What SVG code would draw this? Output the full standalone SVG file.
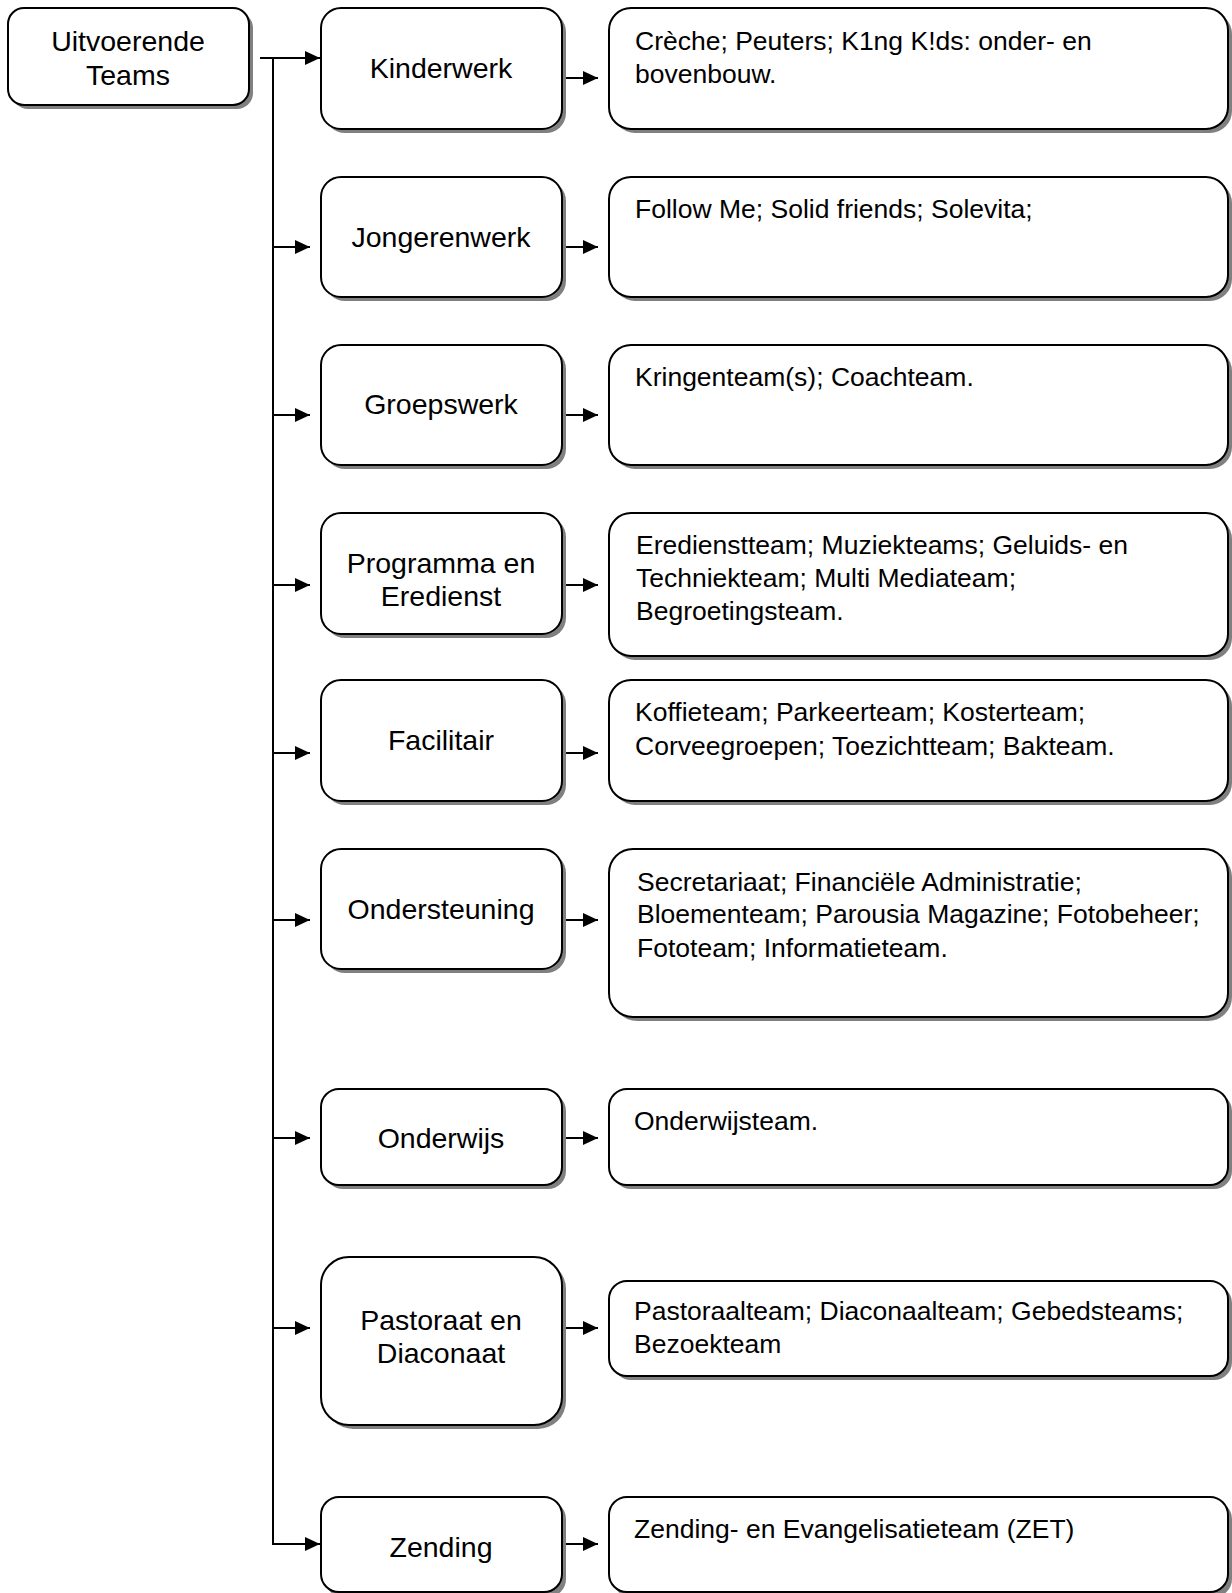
<svg xmlns="http://www.w3.org/2000/svg" width="1232" height="1593" viewBox="0 0 1232 1593">
<style>
.sh{fill:#808080;stroke:none}
.bx{fill:#fff;stroke:#000;stroke-width:2}
.lb{font-family:"Liberation Sans",Arial,sans-serif;font-size:28.5px;fill:#000;text-anchor:middle}
.tx{font-family:"Liberation Sans",Arial,sans-serif;font-size:26.5px;fill:#000}
.cn{fill:none;stroke:#000;stroke-width:2}
</style>
<defs>
<marker id="ah" markerUnits="userSpaceOnUse" markerWidth="16" markerHeight="14" refX="15" refY="7" orient="auto">
<path d="M0,0 L15,7 L0,14 Z" fill="#000"/>
</marker>
</defs>
<rect width="1232" height="1593" fill="#fff"/>

<g id="connectors">
<path class="cn" d="M260,58 H320" marker-end="url(#ah)"/>
<path class="cn" d="M273,58 V1544 H320" marker-end="url(#ah)"/>
<path class="cn" d="M273,247 H310" marker-end="url(#ah)"/>
<path class="cn" d="M273,415 H310" marker-end="url(#ah)"/>
<path class="cn" d="M273,585 H310" marker-end="url(#ah)"/>
<path class="cn" d="M273,753 H310" marker-end="url(#ah)"/>
<path class="cn" d="M273,920 H310" marker-end="url(#ah)"/>
<path class="cn" d="M273,1138 H310" marker-end="url(#ah)"/>
<path class="cn" d="M273,1328 H310" marker-end="url(#ah)"/>
<path class="cn" d="M563,78 H598" marker-end="url(#ah)"/>
<path class="cn" d="M563,247 H598" marker-end="url(#ah)"/>
<path class="cn" d="M563,415 H598" marker-end="url(#ah)"/>
<path class="cn" d="M563,585 H598" marker-end="url(#ah)"/>
<path class="cn" d="M563,753 H598" marker-end="url(#ah)"/>
<path class="cn" d="M563,920 H598" marker-end="url(#ah)"/>
<path class="cn" d="M563,1138 H598" marker-end="url(#ah)"/>
<path class="cn" d="M563,1328 H598" marker-end="url(#ah)"/>
<path class="cn" d="M563,1544 H598" marker-end="url(#ah)"/>
</g>

<g id="n-root">
<rect class="sh" x="12" y="12" width="241" height="97" rx="16"/>
<rect class="bx" x="8" y="8" width="241" height="97" rx="16"/>
<text class="lb" x="128" y="51">Uitvoerende</text>
<text class="lb" x="128" y="85">Teams</text>
</g>

<g id="n-kinderwerk">
<rect class="sh" x="325" y="12" width="241" height="121" rx="20"/>
<rect class="bx" x="321" y="8" width="241" height="121" rx="20"/>
<text class="lb" x="441" y="78">Kinderwerk</text>
</g>
<g id="d-kinderwerk">
<rect class="sh" x="613" y="12" width="619" height="121" rx="22"/>
<rect class="bx" x="609" y="8" width="619" height="121" rx="22"/>
<text class="tx" x="635" y="50">Crèche; Peuters; K1ng K!ds: onder- en</text>
<text class="tx" x="635" y="83">bovenbouw.</text>
</g>

<g id="n-jongerenwerk">
<rect class="sh" x="325" y="181" width="241" height="120" rx="20"/>
<rect class="bx" x="321" y="177" width="241" height="120" rx="20"/>
<text class="lb" x="441" y="247">Jongerenwerk</text>
</g>
<g id="d-jongerenwerk">
<rect class="sh" x="613" y="181" width="619" height="120" rx="22"/>
<rect class="bx" x="609" y="177" width="619" height="120" rx="22"/>
<text class="tx" x="635" y="218">Follow Me; Solid friends; Solevita;</text>
</g>

<g id="n-groepswerk">
<rect class="sh" x="325" y="349" width="241" height="120" rx="20"/>
<rect class="bx" x="321" y="345" width="241" height="120" rx="20"/>
<text class="lb" x="441" y="414">Groepswerk</text>
</g>
<g id="d-groepswerk">
<rect class="sh" x="613" y="349" width="619" height="120" rx="22"/>
<rect class="bx" x="609" y="345" width="619" height="120" rx="22"/>
<text class="tx" x="635" y="386">Kringenteam(s); Coachteam.</text>
</g>

<g id="n-programma">
<rect class="sh" x="325" y="517" width="241" height="121" rx="20"/>
<rect class="bx" x="321" y="513" width="241" height="121" rx="20"/>
<text class="lb" x="441" y="573">Programma en</text>
<text class="lb" x="441" y="606">Eredienst</text>
</g>
<g id="d-programma">
<rect class="sh" x="613" y="517" width="619" height="143" rx="22"/>
<rect class="bx" x="609" y="513" width="619" height="143" rx="22"/>
<text class="tx" x="636" y="554">Eredienstteam; Muziekteams; Geluids- en</text>
<text class="tx" x="636" y="587">Techniekteam; Multi Mediateam;</text>
<text class="tx" x="636" y="620">Begroetingsteam.</text>
</g>

<g id="n-facilitair">
<rect class="sh" x="325" y="684" width="241" height="121" rx="20"/>
<rect class="bx" x="321" y="680" width="241" height="121" rx="20"/>
<text class="lb" x="441" y="750">Facilitair</text>
</g>
<g id="d-facilitair">
<rect class="sh" x="613" y="684" width="619" height="121" rx="22"/>
<rect class="bx" x="609" y="680" width="619" height="121" rx="22"/>
<text class="tx" x="635" y="721">Koffieteam; Parkeerteam; Kosterteam;</text>
<text class="tx" x="635" y="755">Corveegroepen; Toezichtteam; Bakteam.</text>
</g>

<g id="n-ondersteuning">
<rect class="sh" x="325" y="853" width="241" height="120" rx="20"/>
<rect class="bx" x="321" y="849" width="241" height="120" rx="20"/>
<text class="lb" x="441" y="919">Ondersteuning</text>
</g>
<g id="d-ondersteuning">
<rect class="sh" x="613" y="853" width="619" height="168" rx="24"/>
<rect class="bx" x="609" y="849" width="619" height="168" rx="24"/>
<text class="tx" x="637" y="891">Secretariaat; Financiële Administratie;</text>
<text class="tx" x="637" y="923">Bloementeam; Parousia Magazine; Fotobeheer;</text>
<text class="tx" x="637" y="957">Fototeam; Informatieteam.</text>
</g>

<g id="n-onderwijs">
<rect class="sh" x="325" y="1093" width="241" height="96" rx="18"/>
<rect class="bx" x="321" y="1089" width="241" height="96" rx="18"/>
<text class="lb" x="441" y="1148">Onderwijs</text>
</g>
<g id="d-onderwijs">
<rect class="sh" x="613" y="1093" width="619" height="96" rx="18"/>
<rect class="bx" x="609" y="1089" width="619" height="96" rx="18"/>
<text class="tx" x="634" y="1130">Onderwijsteam.</text>
</g>

<g id="n-pastoraat">
<rect class="sh" x="325" y="1261" width="241" height="168" rx="28"/>
<rect class="bx" x="321" y="1257" width="241" height="168" rx="28"/>
<text class="lb" x="441" y="1330">Pastoraat en</text>
<text class="lb" x="441" y="1363">Diaconaat</text>
</g>
<g id="d-pastoraat">
<rect class="sh" x="613" y="1285" width="619" height="95" rx="18"/>
<rect class="bx" x="609" y="1281" width="619" height="95" rx="18"/>
<text class="tx" x="634" y="1320">Pastoraalteam; Diaconaalteam; Gebedsteams;</text>
<text class="tx" x="634" y="1353">Bezoekteam</text>
</g>

<g id="n-zending">
<rect class="sh" x="325" y="1501" width="241" height="96" rx="18"/>
<rect class="bx" x="321" y="1497" width="241" height="95" rx="18"/>
<text class="lb" x="441" y="1557">Zending</text>
</g>
<g id="d-zending">
<rect class="sh" x="613" y="1501" width="619" height="96" rx="18"/>
<rect class="bx" x="609" y="1497" width="619" height="95" rx="18"/>
<text class="tx" x="634" y="1538">Zending- en Evangelisatieteam (ZET)</text>
</g>
</svg>
